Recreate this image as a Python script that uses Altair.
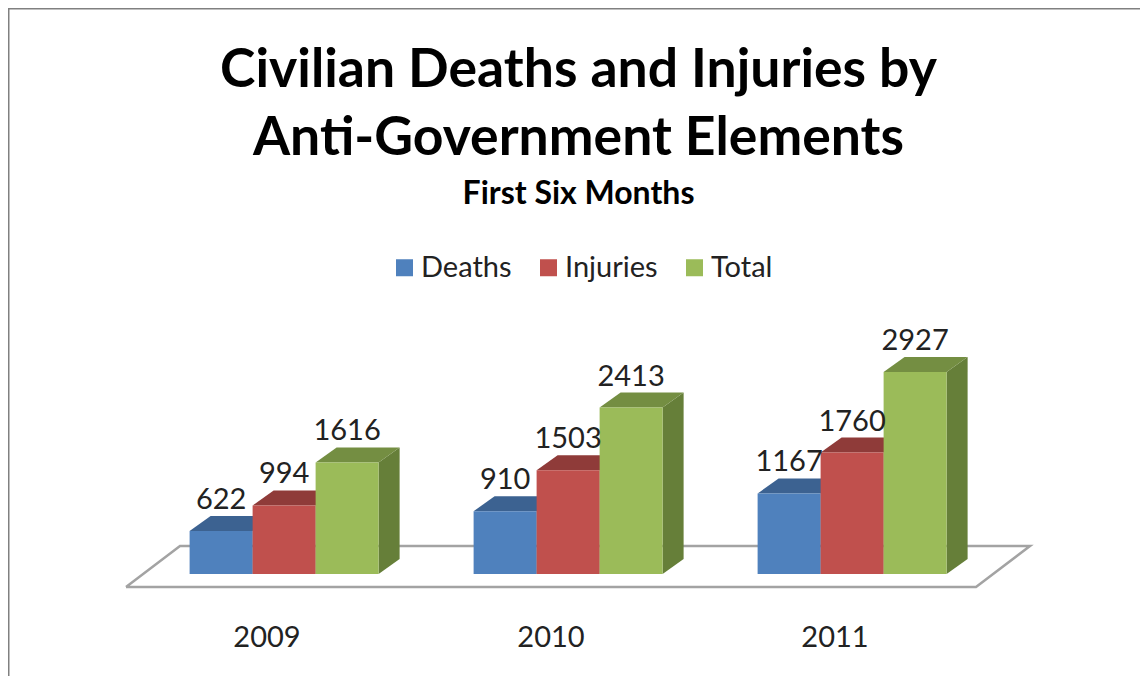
import altair as alt
import pandas as pd

categories = ["2009", "2010", "2011"]
series = ["Deaths", "Injuries", "Total"]
deaths = [622, 910, 1167]
injuries = [994, 1503, 1760]
total = [1616, 2413, 2927]
front_colors = ["#4F81BD", "#C0504D", "#9BBB59"]
top_colors = ["#3C6291", "#8F3B39", "#748E42"]
side_colors = ["#324F75", "#7A3230", "#667F39"]

FONT = "Lato"
W, H = 1132, 668
PX_PER_CAT = 284.0
PX_PER_VAL = 0.0690
X0_IMG, Y0_IMG = 267.0, 574.0

x_dom = [(8 - X0_IMG) / PX_PER_CAT, (8 + W - X0_IMG) / PX_PER_CAT]
y_dom = [(Y0_IMG - (8 + H)) / PX_PER_VAL, (Y0_IMG - 8) / PX_PER_VAL]
xs = alt.Scale(domain=x_dom, range=[0, W], nice=False, zero=False)
ys = alt.Scale(domain=y_dom, range=[H, 0], nice=False, zero=False)

bar_w = 63 / PX_PER_CAT
start = -0.2725
dx = 21 / PX_PER_CAT
dv = 15 / PX_PER_VAL

fronts, faces, floor = [], [], []
for s_i, (name, vals) in enumerate(zip(series, [deaths, injuries, total])):
    for c_i, v in enumerate(vals):
        x0 = c_i + start + s_i * bar_w
        x1 = x0 + bar_w
        fronts.append(dict(series=name, x0=x0, x1=x1, base=0, value=v, xc=(x0 + x1) / 2))
        side = f"side-{name}-{c_i}"
        faces += [
            dict(key=side, px=x1, lo=0, hi=v, shade=f"side-{name}"),
            dict(key=side, px=x1 + dx, lo=dv, hi=v + dv, shade=f"side-{name}"),
        ]
        top = f"top-{name}-{c_i}"
        faces += [
            dict(key=top, px=x0, lo=v, hi=v, shade=f"top-{name}"),
            dict(key=top, px=x0 + dx, lo=v, hi=v + dv, shade=f"top-{name}"),
            dict(key=top, px=x1, lo=v, hi=v + dv, shade=f"top-{name}"),
            dict(key=top, px=x1 + dx, lo=v + dv, hi=v + dv, shade=f"top-{name}"),
        ]

shade_domain = [f"side-{n}" for n in series] + [f"top-{n}" for n in series]
shade_range = side_colors + top_colors

fl = -13 / PX_PER_VAL
bl = 28 / PX_PER_VAL
for i, (fx, fy) in enumerate([
    ((126 - X0_IMG) / PX_PER_CAT, fl),
    ((976 - X0_IMG) / PX_PER_CAT, fl),
    ((1030 - X0_IMG) / PX_PER_CAT, bl),
    ((180 - X0_IMG) / PX_PER_CAT, bl),
    ((126 - X0_IMG) / PX_PER_CAT, fl),
]):
    floor.append(dict(fx=fx, fy=fy, ord=i))

cat_table = pd.DataFrame({"cat": categories, "pos": [0, 1, 2], "lab_y": [-73 / PX_PER_VAL] * 3})
fronts = pd.DataFrame(fronts)
faces = pd.DataFrame(faces)
floor = pd.DataFrame(floor)

floor_layer = alt.Chart(floor).mark_line(color="#A3A3A3", strokeWidth=2.5).encode(
    x=alt.X("fx:Q", scale=xs, axis=None),
    y=alt.Y("fy:Q", scale=ys, axis=None),
    order="ord:Q",
)

face_layer = alt.Chart(faces).mark_area(orient="vertical", interpolate="linear").encode(
    x=alt.X("px:Q", scale=xs, axis=None),
    y=alt.Y("lo:Q", scale=ys, axis=None, stack=None),
    y2="hi:Q",
    color=alt.Color("shade:N", scale=alt.Scale(domain=shade_domain, range=shade_range), legend=None),
    detail="key:N",
)

front_layer = alt.Chart(fronts).mark_rect().encode(
    x=alt.X("x0:Q", scale=xs, axis=None),
    x2="x1:Q",
    y=alt.Y("value:Q", scale=ys, axis=None),
    y2="base:Q",
    color=alt.Color("series:N", sort=series,
                    scale=alt.Scale(domain=series, range=front_colors),
                    legend=alt.Legend(
                        title=None, orient="none", legendX=382, legendY=245,
                        direction="horizontal", symbolType="square", symbolSize=289,
                        symbolStrokeWidth=0, labelFont=FONT, labelFontSize=29,
                        labelColor="#222222", labelOffset=2, columnPadding=22,
                    )),
)

text_layer = alt.Chart(fronts).mark_text(
    font=FONT, fontSize=29, color="#222222", dy=-22, baseline="alphabetic", align="center",
).encode(
    x=alt.X("xc:Q", scale=xs, axis=None),
    y=alt.Y("value:Q", scale=ys, axis=None),
    text="value:Q",
)

cat_layer = alt.Chart(cat_table).mark_text(
    font=FONT, fontSize=29, color="#222222", baseline="alphabetic", align="center",
).encode(
    x=alt.X("pos:Q", scale=xs, axis=None),
    y=alt.Y("lab_y:Q", scale=ys, axis=None),
    text="cat:N",
)

frame_top = alt.Chart(pd.DataFrame({"a": [0]})).mark_rule(color="#808080", strokeWidth=2).encode(
    x=alt.value(0), x2=alt.value(W), y=alt.value(0.5))
frame_left = alt.Chart(pd.DataFrame({"a": [0]})).mark_rule(color="#808080", strokeWidth=2).encode(
    y=alt.value(0), y2=alt.value(H), x=alt.value(0.5))

chart = alt.layer(
    frame_top, frame_left, floor_layer, face_layer, front_layer, text_layer, cat_layer
).properties(
    width=W, height=H, padding=0, autosize=alt.AutoSizeParams(type="none"),
    title=alt.TitleParams(
        text=["Civilian Deaths and Injuries by", "Anti-Government Elements"],
        subtitle="First Six Months",
        font=FONT, fontSize=53.5, fontWeight="bold", color="#000000", lineHeight=68,
        subtitleFont=FONT, subtitleFontSize=32, subtitleFontWeight="bold",
        subtitleColor="#000000", subtitlePadding=13,
        anchor="middle", orient="top", offset=-204, dx=4.5,
    ),
).configure_view(stroke=None).resolve_scale(color="independent")

chart.save("out.html", embed_options={"renderer": "svg", "actions": False})
